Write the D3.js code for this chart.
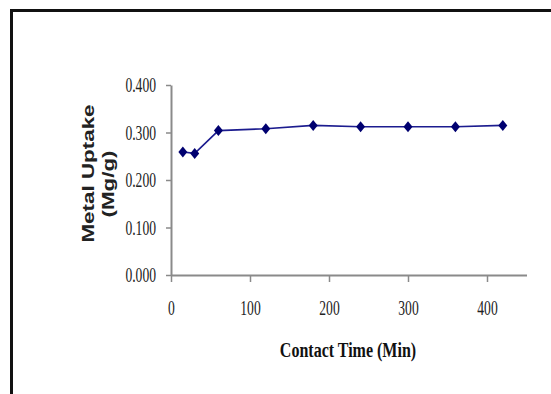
<!DOCTYPE html>
<meta charset="utf-8">
<html>
<head>
<style>
  body { margin: 0; background: #fff; }
  svg { display: block; }
</style>
</head>
<body>
<script src="https://cdn.jsdelivr.net/npm/d3@7"></script>
<script>
  // contact time (min) and metal uptake (mg/g)
  var times = [15, 30, 60, 120, 180, 240, 300, 360, 420];
  var uptake = [0.259, 0.256, 0.304, 0.308, 0.315, 0.312, 0.312, 0.312, 0.315];
  var xTicks = [0, 100, 200, 300, 400];
  var yTicks = [0, 0.1, 0.2, 0.3, 0.4];

  var W = 551, H = 394;
  var svg = d3.select("body").append("svg")
    .attr("width", W)
    .attr("height", H);

  // frame round the figure (cut off at right/bottom)
  svg.append("rect")
    .attr("x", 11.5).attr("y", 10.5)
    .attr("width", 700).attr("height", 700)
    .attr("fill", "none")
    .attr("stroke", "#111")
    .attr("stroke-width", 3);

  var x = d3.scaleLinear().domain([0, 450]).range([171, 526.5]);
  var y = d3.scaleLinear().domain([0, 0.4]).range([275, 85]);

  var fmt = d3.format(".3f");

  // x axis
  var gx = svg.append("g")
    .attr("transform", "translate(0," + y(0) + ")")
    .call(d3.axisBottom(x).tickValues(xTicks).tickSize(7).tickSizeOuter(0).tickFormat(d3.format("d")));

  // y axis
  var gy = svg.append("g")
    .attr("transform", "translate(" + x(0) + ",0)")
    .call(d3.axisLeft(y).tickValues(yTicks).tickSize(5).tickSizeOuter(0).tickFormat(fmt));

  [gx, gy].forEach(function(g) {
    g.select(".domain").attr("stroke", "#8a8a8a").attr("stroke-width", 2);
    g.selectAll(".tick line").attr("stroke", "#8a8a8a").attr("stroke-width", 1.5);
    g.selectAll("text")
      .attr("font-family", "'Liberation Serif', 'Times New Roman', serif")
      .attr("font-size", 20)
      .attr("fill", "#222");
  });

  gx.selectAll(".tick text")
    .attr("dy", null)
    .attr("y", 40)
    .attr("transform", "scale(0.68,1)");

  gy.selectAll(".tick text")
    .attr("x", -15 / 0.68)
    .attr("dy", "0.34em")
    .attr("transform", "scale(0.68,1)");

  // series
  var line = d3.line()
    .x(function(d, i) { return x(times[i]); })
    .y(function(d) { return y(d); });

  svg.append("path")
    .datum(uptake)
    .attr("d", line)
    .attr("fill", "none")
    .attr("stroke", "#1c1c8f")
    .attr("stroke-width", 1.6);

  var diamond = function(w, h) {
    var p = d3.path();
    p.moveTo(0, -h); p.lineTo(w, 0); p.lineTo(0, h); p.lineTo(-w, 0); p.closePath();
    return p.toString();
  };

  svg.selectAll(".pt")
    .data(uptake)
    .enter().append("path")
      .attr("class", "pt")
      .attr("d", diamond(4.5, 5.5))
      .attr("transform", function(d, i) { return "translate(" + x(times[i]) + "," + y(d) + ")"; })
      .attr("fill", "#000070");

  // axis titles
  svg.append("text")
    .attr("transform", "translate(348,357) scale(0.8,1)")
    .attr("text-anchor", "middle")
    .attr("font-family", "'Liberation Serif', 'Times New Roman', serif")
    .attr("font-weight", "bold")
    .attr("font-size", 20)
    .attr("fill", "#111")
    .text("Contact Time (Min)");

  var ytitle = [
    { t: "Metal Uptake", bx: 93.5, cy: 173.5 },
    { t: "(Mg/g)", bx: 113.5, cy: 184 }
  ];
  svg.selectAll(".ytitle")
    .data(ytitle)
    .enter().append("text")
      .attr("class", "ytitle")
      .attr("transform", function(d) { return "translate(" + d.bx + "," + d.cy + ") rotate(-90) scale(1.4,1)"; })
      .attr("text-anchor", "middle")
      .attr("font-family", "'Liberation Sans', Arial, sans-serif")
      .attr("font-weight", "bold")
      .attr("font-size", 16)
      .attr("fill", "#222")
      .text(function(d) { return d.t; });
</script>
</body>
</html>
